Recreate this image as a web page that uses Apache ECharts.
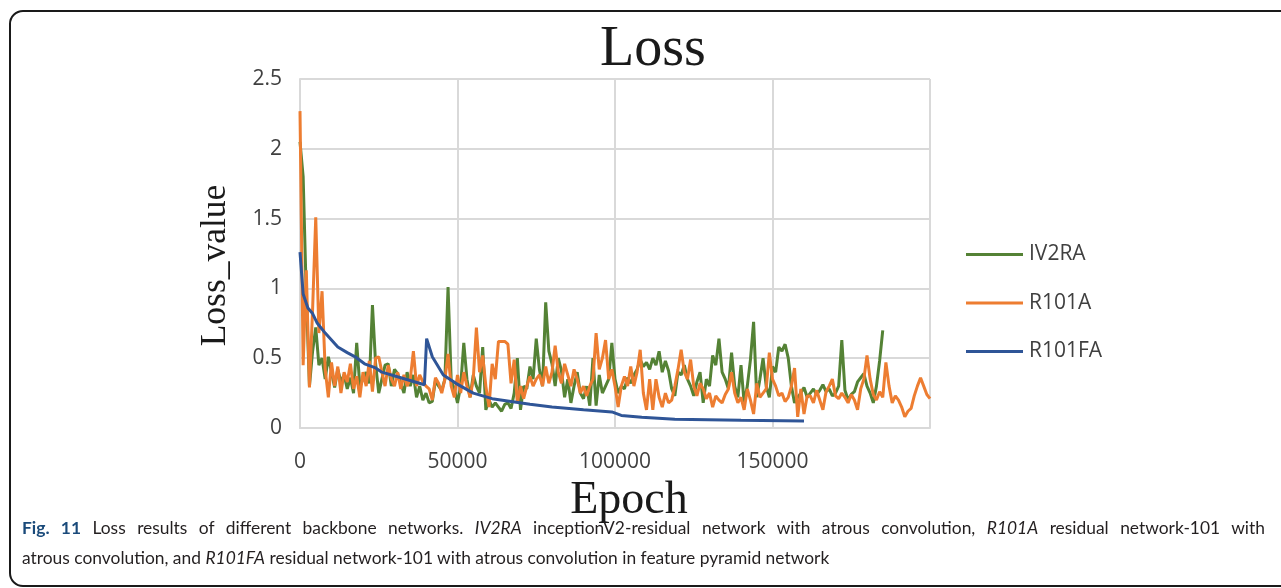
<!DOCTYPE html>
<html>
<head>
<meta charset="utf-8">
<script src="https://cdn.jsdelivr.net/npm/echarts@6/dist/echarts.min.js"></script>
<style>
html,body{margin:0;padding:0;background:#fff;width:1281px;height:588px;overflow:hidden;}
#frame{position:absolute;left:9px;top:10px;width:1320px;height:573px;border:2px solid #1a1a1a;border-radius:14px;}
#chart{position:absolute;left:0;top:0;width:1281px;height:588px;}
#cap{position:absolute;left:22px;top:513px;width:1243px;font-family:Lato,"Open Sans",sans-serif;font-size:17.4px;color:#231f20;line-height:30px;}
#cap .l1{text-align:justify;text-align-last:justify;white-space:nowrap;}
#cap b{color:#1a4a7a;}
</style>
</head>
<body>
<div id="frame"></div>
<div id="chart"></div>
<div id="cap">
<div class="l1"><b>Fig. 11</b> Loss results of different backbone networks. <i>IV2RA</i> inceptionV2-residual network with atrous convolution, <i>R101A</i> residual network-101 with</div>
<div>atrous convolution, and <i>R101FA</i> residual network-101 with atrous convolution in feature pyramid network</div>
</div>
<script>
// x tick labels (epochs)
const xTicks = [0, 50000, 100000, 150000, 200000];
const yTicks = [0, 0.5, 1, 1.5, 2, 2.5];
const seriesNames = ['IV2RA', 'R101A', 'R101FA'];
// samples of IV2RA and R101A are taken every 1000 epochs, starting at epoch 0
const epochStep = 1000;
const iv2ra = [
2.05,1.80,0.95,0.30,0.55,0.72,0.45,0.50,0.35,0.51,
0.40,0.29,0.42,0.33,0.38,0.28,0.36,0.25,0.61,0.30,
0.35,0.40,0.32,0.88,0.46,0.25,0.35,0.45,0.46,0.30,
0.42,0.39,0.32,0.25,0.40,0.30,0.38,0.22,0.30,0.20,
0.25,0.18,0.19,0.34,0.30,0.27,0.35,1.01,0.34,0.28,
0.18,0.30,0.61,0.35,0.22,0.38,0.30,0.25,0.58,0.13,
0.20,0.15,0.18,0.15,0.12,0.17,0.18,0.14,0.25,0.50,
0.13,0.30,0.28,0.44,0.35,0.64,0.42,0.30,0.90,0.55,
0.46,0.30,0.50,0.41,0.22,0.35,0.18,0.30,0.40,0.25,
0.21,0.30,0.16,0.50,0.16,0.38,0.25,0.30,0.35,0.61,
0.35,0.25,0.30,0.28,0.36,0.32,0.38,0.42,0.49,0.44,
0.47,0.42,0.50,0.45,0.55,0.40,0.48,0.41,0.28,0.23,
0.40,0.38,0.45,0.35,0.30,0.23,0.33,0.40,0.18,0.35,
0.30,0.52,0.45,0.64,0.40,0.35,0.28,0.54,0.30,0.22,
0.45,0.18,0.30,0.49,0.76,0.22,0.35,0.50,0.30,0.22,
0.44,0.40,0.58,0.55,0.60,0.50,0.30,0.18,0.22,0.25,
0.29,0.22,0.25,0.28,0.24,0.27,0.31,0.26,0.28,0.23,
0.25,0.30,0.63,0.27,0.20,0.24,0.26,0.33,0.36,0.39,
0.30,0.25,0.18,0.30,0.48,0.70
];
const r101a = [
2.27,0.45,1.13,0.29,0.85,1.51,0.68,0.98,0.42,0.22,
0.47,0.30,0.44,0.25,0.40,0.33,0.46,0.28,0.37,0.22,
0.40,0.30,0.48,0.26,0.50,0.51,0.40,0.30,0.45,0.35,
0.30,0.40,0.28,0.38,0.30,0.35,0.55,0.30,0.38,0.33,
0.30,0.28,0.20,0.36,0.32,0.25,0.35,0.53,0.30,0.22,
0.38,0.25,0.40,0.30,0.22,0.35,0.72,0.40,0.52,0.30,
0.15,0.46,0.35,0.62,0.62,0.62,0.60,0.32,0.49,0.18,
0.30,0.21,0.30,0.37,0.30,0.35,0.38,0.30,0.44,0.32,
0.40,0.59,0.40,0.32,0.46,0.38,0.30,0.42,0.35,0.25,
0.30,0.23,0.30,0.35,0.68,0.42,0.50,0.63,0.35,0.42,
0.30,0.15,0.30,0.37,0.30,0.44,0.30,0.40,0.56,0.25,
0.13,0.35,0.13,0.35,0.22,0.15,0.25,0.18,0.20,0.30,
0.42,0.56,0.40,0.35,0.49,0.30,0.23,0.32,0.28,0.21,
0.25,0.15,0.23,0.20,0.18,0.24,0.28,0.40,0.25,0.18,
0.22,0.13,0.28,0.20,0.10,0.32,0.22,0.25,0.28,0.54,
0.35,0.30,0.23,0.25,0.19,0.22,0.30,0.43,0.08,0.28,
0.10,0.23,0.23,0.18,0.27,0.20,0.13,0.26,0.30,0.35,
0.23,0.21,0.25,0.22,0.18,0.24,0.20,0.13,0.28,0.35,
0.52,0.35,0.24,0.20,0.26,0.22,0.47,0.30,0.18,0.23,
0.20,0.15,0.08,0.12,0.14,0.23,0.30,0.36,0.30,0.24,
0.21
];
const r101faEpochs = [0,1000,2500,4000,5500,8000,10000,12000,15000,17500,20500,24000,26000,32000,39500,40200,42000,45500,49500,55000,61000,67000,73000,80000,90000,99000,102000,108500,119000,140000,160000];
const r101faValues = [1.26,0.96,0.86,0.82,0.75,0.68,0.63,0.58,0.54,0.51,0.46,0.43,0.40,0.36,0.31,0.64,0.51,0.38,0.32,0.25,0.21,0.19,0.17,0.15,0.13,0.115,0.09,0.077,0.062,0.055,0.05];

const colors = ['#548235', '#ED7D31', '#2F5597'];
const toPairs = arr => arr.map((v, i) => [i * epochStep, v]);

const chart = echarts.init(document.getElementById('chart'), null, {renderer: 'canvas'});
const tickFont = {fontFamily: '"Open Sans", sans-serif', fontSize: 21, color: '#404040'};
chart.setOption({
  animation: false,
  backgroundColor: 'transparent',
  color: colors,
  title: {
    text: 'Loss', left: 648, top: 17, textAlign: 'center',
    textStyle: {fontFamily: '"Liberation Serif", serif', fontSize: 56, fontWeight: 'normal', color: '#1a1a1a'}
  },
  legend: {
    orient: 'vertical', left: 961, top: 239, itemWidth: 57, itemHeight: 3, itemGap: 27.5,
    icon: 'rect',
    textStyle: {fontFamily: '"Open Sans", sans-serif', fontSize: 21, color: '#404040', padding: [0, 0, 0, 1]},
    data: seriesNames
  },
  grid: {left: 300, right: 351, top: 79, bottom: 160, containLabel: false},
  xAxis: {
    type: 'value', min: xTicks[0], max: xTicks[xTicks.length - 1], interval: xTicks[1] - xTicks[0],
    name: 'Epoch', nameLocation: 'middle', nameGap: 46,
    nameTextStyle: {fontFamily: '"Liberation Serif", serif', fontSize: 46, color: '#1a1a1a', padding: [0, 0, 0, 28]},
    axisLine: {show: true, lineStyle: {color: '#d9d9d9', width: 2}},
    axisTick: {show: false},
    axisLabel: Object.assign({margin: 24, showMaxLabel: false, formatter: v => String(v)}, tickFont),
    splitLine: {show: true, lineStyle: {color: '#d9d9d9', width: 2}}
  },
  yAxis: {
    type: 'value', min: yTicks[0], max: yTicks[yTicks.length - 1], interval: yTicks[1] - yTicks[0],
    name: 'Loss_value', nameLocation: 'middle', nameGap: 66, nameRotate: 90,
    nameTextStyle: {fontFamily: '"Liberation Serif", serif', fontSize: 35.5, color: '#1a1a1a', padding: [0, 24, 0, 0]},
    axisLine: {show: true, lineStyle: {color: '#d9d9d9', width: 2}},
    axisTick: {show: false},
    axisLabel: Object.assign({margin: 18}, tickFont),
    splitLine: {show: true, lineStyle: {color: '#d9d9d9', width: 2}}
  },
  series: [
    {name: seriesNames[0], type: 'line', data: toPairs(iv2ra), showSymbol: false, symbol: 'none', lineStyle: {width: 3, color: colors[0]}, itemStyle: {color: colors[0]}},
    {name: seriesNames[1], type: 'line', data: toPairs(r101a), showSymbol: false, symbol: 'none', lineStyle: {width: 3, color: colors[1]}, itemStyle: {color: colors[1]}},
    {name: seriesNames[2], type: 'line', data: r101faEpochs.map((e, i) => [e, r101faValues[i]]), showSymbol: false, symbol: 'none', lineStyle: {width: 3, color: colors[2]}, itemStyle: {color: colors[2]}}
  ]
});
</script>
</body>
</html>
